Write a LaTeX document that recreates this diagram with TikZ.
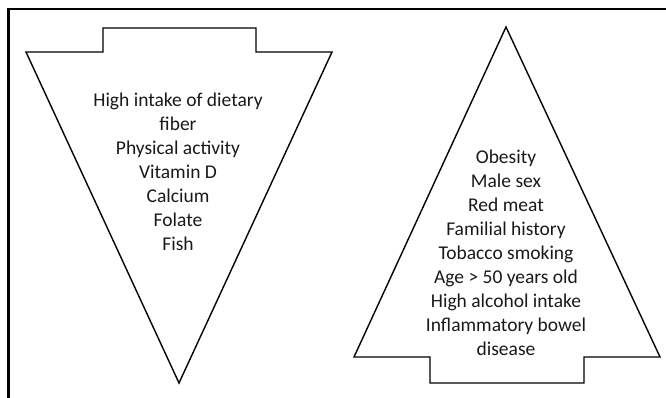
\documentclass[tikz,border=0pt]{standalone}
\usepackage{fontspec}
\setmainfont{Carlito}
\begin{document}
\begin{tikzpicture}[x=1pt,y=-1pt,
  arrowshape/.style={draw=black,line width=1.4pt,line join=miter},
  framestyle/.style={draw=black,line width=2.6pt},
  txt/.style={align=center,font=\fontsize{19.5}{24}\selectfont,text=black!90,inner sep=0pt}]
\useasboundingbox (0,0) rectangle (666,398);
% frame
\draw[framestyle] (8.3,398) -- (8.3,9) -- (666,9);
% left shape (downward arrowhead)
\draw[arrowshape] (179,383) -- (26,52) -- (103,52) -- (103,28) -- (256,28) -- (256,52) -- (332,52) -- cycle;
% right shape (upward arrowhead)
\draw[arrowshape] (506,27) -- (660,357) -- (584,357) -- (584,383) -- (430,383) -- (430,357) -- (354,357) -- cycle;
\node[txt] (protect) at (178,172) {High intake of dietary\\fiber\\Physical activity\\Vitamin D\\Calcium\\Folate\\Fish};
\node[txt] (risk) at (506,253) {Obesity\\Male sex\\Red meat\\Familial history\\Tobacco smoking\\Age > 50 years old\\High alcohol intake\\Inflammatory bowel\\disease};
\end{tikzpicture}
\end{document}
